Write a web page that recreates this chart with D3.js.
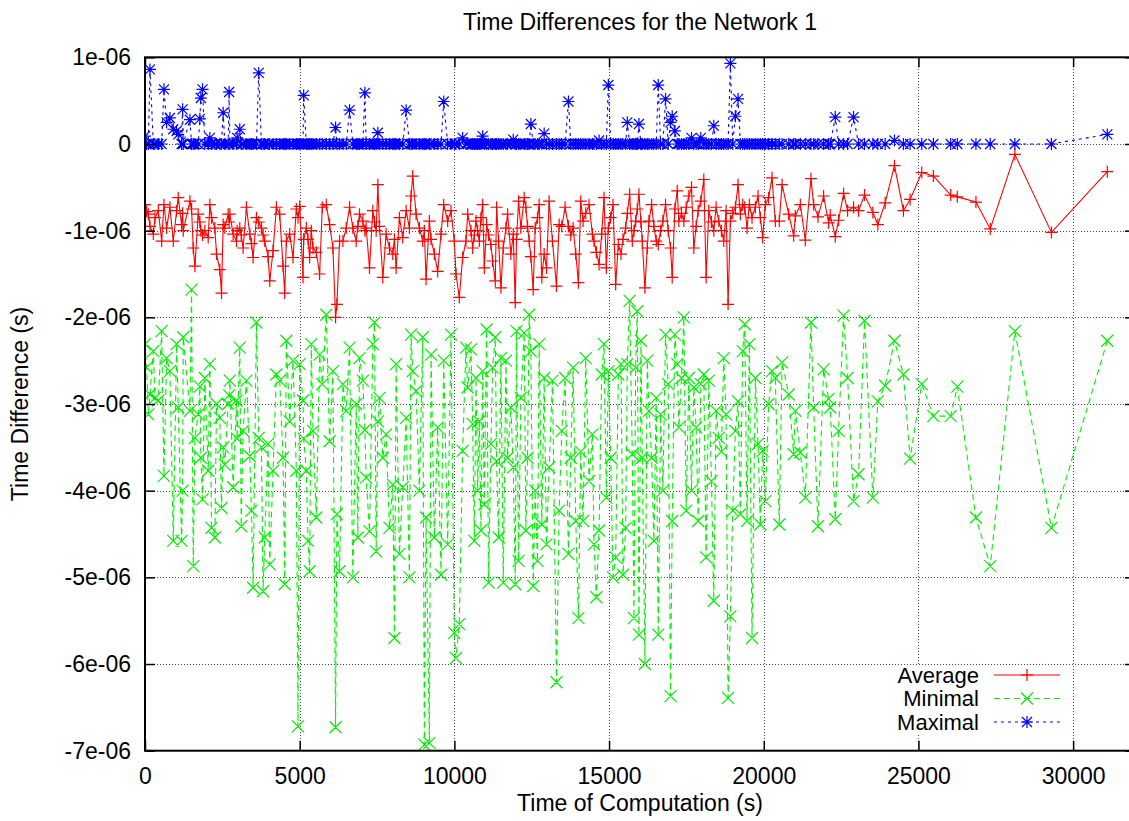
<!DOCTYPE html>
<meta charset="utf-8">
<title>Time Differences for the Network 1</title>
<script src="https://cdn.jsdelivr.net/npm/d3@7"></script>
<style>
  body { margin: 0; background: #fff; }
  svg { display: block; font-family: "Liberation Sans", Arial, sans-serif; }
</style>
<div id="chart"></div>
<script>
// time of computation (s), shared by the three series
var time = [
  0, 54, 108, 161, 269, 323, 430, 538, 613, 699,
  806, 914, 1022, 1075, 1183, 1215, 1237, 1452, 1505, 1559,
  1613, 1720, 1774, 1806, 1860, 1935, 2043, 2097, 2150, 2258,
  2312, 2419, 2473, 2527, 2580, 2688, 2720, 2742, 2849, 2957,
  2978, 3064, 3110, 3172, 3279, 3387, 3441, 3494, 3602, 3677,
  3763, 3817, 3870, 3978, 4032, 4139, 4247, 4354, 4462, 4516,
  4569, 4677, 4784, 4892, 4946, 5000, 5107, 5129, 5215, 5269,
  5322, 5376, 5430, 5537, 5644, 5730, 5859, 5967, 6074, 6160,
  6203, 6289, 6397, 6504, 6612, 6719, 6827, 6880, 6934, 7042,
  7107, 7149, 7257, 7364, 7418, 7472, 7526, 7579, 7687, 7794,
  7902, 8009, 8063, 8117, 8224, 8332, 8441, 8547, 8600, 8654,
  8762, 8869, 8977, 9030, 9084, 9192, 9246, 9353, 9461, 9568,
  9655, 9783, 9891, 9998, 10052, 10159, 10267, 10374,
  10430, 10537, 10591, 10645, 10699, 10752, 10806, 10860, 10914, 10967,
  11043, 11107, 11182, 11236, 11322, 11365, 11430, 11505, 11580, 11666,
  11720, 11827, 11903, 11967, 12010, 12075, 12150, 12257, 12311, 12365,
  12418, 12472, 12548, 12612, 12687, 12741, 12827, 12902, 12978, 13064,
  13171, 13300, 13386, 13472, 13580, 13687, 13762, 13838, 13924, 14010,
  14085, 14160, 14246, 14354, 14461, 14515, 14590, 14676, 14762, 14837,
  14912, 14977, 15052, 15128, 15214, 15300, 15386, 15450, 15536, 15590,
  15665, 15751, 15805, 15859, 15912, 15966, 16030, 16074, 16159, 16235,
  16289, 16375, 16450, 16525, 16590, 16665, 16740, 16826, 16912, 16987,
  17041, 17127, 17203, 17256, 17342, 17417, 17493, 17579, 17665, 17740,
  17815, 17880, 17966, 18062, 18138, 18224, 18310, 18385, 18460, 18546,
  18632, 18707, 18783, 18847, 18922, 18997, 19083, 19169, 19245, 19320,
  19384, 19460, 19535, 19621, 19729, 19814, 19890, 19965, 20051, 20158,
  20266, 20373,
  20502, 20592, 20807, 20968, 21022, 21183, 21344, 21527, 21613, 21753,
  21935, 22097, 22150, 22312, 22419, 22581, 22710, 22903, 23064, 23258,
  23527, 23688, 23924, 24225, 24515, 24730,
  25107, 25483, 26042, 26257, 26859, 27321, 28117, 29299, 31105
];

// average time difference, in microseconds
var avgUs = [
  -0.70, -0.78, -0.81, -0.95, -1.04, -0.85, -0.77, -1.12, -0.70, -0.97,
  -0.73, -1.12, -0.77, -0.62, -0.93, -0.80, -1.00, -0.66, -0.75, -1.20,
  -1.41, -0.81, -0.90, -1.00, -1.05, -1.00, -1.08, -0.70, -0.85, -0.97,
  -1.27, -1.45, -1.72, -0.93, -0.97, -0.81, -0.90, -0.81, -1.04, -1.12,
  -1.00, -0.97, -1.05, -1.20, -0.73, -1.04, -1.15, -1.31, -0.85, -0.90,
  -0.97, -1.05, -1.12, -1.30, -1.58, -1.23, -0.73, -0.81, -1.41, -1.72,
  -1.12, -1.04, -1.31, -0.75, -0.85, -0.72, -1.54, -1.10, -0.97, -1.10,
  -1.31, -1.00, -1.20, -1.25, -1.50, -0.73, -0.70, -0.93, -1.20, -2.00,
  -1.85, -1.12, -1.12, -0.97, -0.73, -0.97, -1.12, -0.95, -0.81, -0.89,
  -1.00, -0.97, -1.43, -0.77, -0.90, -1.00, -0.47, -0.95, -1.54, -1.04,
  -1.20, -1.27, -1.10, -1.43, -0.85, -1.08, -0.77, -0.97, -0.60, -0.37,
  -0.81, -0.97, -1.12, -1.00, -1.56, -0.89, -1.10, -1.27, -1.47, -1.04,
  -0.70, -0.89, -0.77, -1.12, -1.50, -1.77, -1.31, -1.12,
  -0.81, -1.00, -1.20, -1.05, -0.89, -1.00, -1.12, -0.85, -0.70, -1.43,
  -0.93, -1.05, -1.16, -1.35, -1.58, -0.73, -1.12, -1.66, -1.20, -0.97,
  -0.81, -1.27, -1.04, -1.83, -1.10, -0.66, -0.97, -0.62, -0.73, -0.95,
  -1.12, -1.30, -1.68, -0.97, -0.85, -0.70, -1.54, -1.27, -1.43, -0.66,
  -1.12, -1.64, -0.93, -0.95, -0.73, -0.95, -1.05, -0.97, -1.27, -1.60,
  -0.66, -0.89, -0.80, -0.70, -1.04, -1.12, -1.25, -1.39, -1.04, -0.62,
  -1.43, -0.97, -0.85, -0.70, -1.62, -1.16, -1.27, -1.10, -0.97, -0.80,
  -0.58, -1.12, -1.00, -0.89, -0.75, -0.58, -0.90, -1.12, -1.66, -1.20,
  -0.89, -0.70, -0.95, -1.12, -1.16, -1.00, -0.89, -0.70, -1.00, -1.20,
  -1.54, -0.75, -0.54, -0.89, -0.80, -0.89, -0.73, -0.60, -0.50, -1.20,
  -0.95, -0.77, -0.66, -0.41, -1.54, -0.77, -0.90, -1.00, -0.73, -0.89,
  -1.00, -1.12, -0.77, -1.85, -0.89, -0.80, -0.73, -0.47, -0.81, -0.70,
  -0.73, -0.97, -0.70, -0.85, -0.73, -0.60, -0.85, -1.08, -0.70, -0.62,
  -0.39, -0.89,
  -0.89, -0.47, -0.81, -1.06, -0.83, -0.70, -1.11, -0.40, -0.70, -0.84,
  -0.60, -0.91, -0.82, -1.07, -0.88, -0.57, -0.77, -0.73, -0.77, -0.59,
  -0.79, -0.93, -0.68, -0.25, -0.77, -0.64,
  -0.33, -0.37, -0.59, -0.61, -0.67, -0.98, -0.12, -1.02, -0.32
];

// minimal time difference, in microseconds
var minUs = [
  -2.31, -2.58, -3.12, -2.89, -2.39, -2.93, -2.96, -2.16, -3.83, -2.47,
  -2.62, -4.58, -2.31, -3.04, -4.58, -4.00, -2.23, -3.08, -1.68, -4.87,
  -3.39, -3.12, -2.80, -3.62, -4.10, -2.70, -3.77, -2.54, -4.43, -4.54,
  -3.00, -3.16, -4.20, -3.50, -3.70, -3.00, -2.90, -2.73, -3.96, -2.96,
  -3.40, -2.35, -4.41, -3.31, -2.73, -3.60, -4.23, -5.12, -2.06, -3.39,
  -3.50, -5.16, -4.54, -3.46, -4.85, -3.77, -2.66, -2.73, -3.62, -5.08,
  -2.27, -3.20, -2.50, -3.77, -6.72, -2.54, -2.96, -3.40, -3.77, -4.58,
  -4.93, -2.31, -3.31, -4.31, -2.43, -2.77, -1.97, -3.43, -2.62, -6.73,
  -4.27, -4.93, -2.77, -3.08, -2.35, -5.00, -3.00, -4.54, -2.47, -2.73,
  -3.30, -3.85, -4.47, -2.31, -2.06, -4.70, -3.20, -2.93, -3.62, -3.35,
  -4.43, -3.93, -5.70, -2.54, -4.73, -3.96, -3.16, -5.00, -2.20, -2.62,
  -2.85, -4.00, -2.23, -6.93, -4.31, -6.91, -2.43, -4.54, -3.27, -4.97,
  -2.50, -4.62, -2.20, -5.64, -5.93, -5.54, -3.54, -2.35,
  -2.81, -2.37, -3.23, -4.58, -2.70, -4.00, -3.20, -4.46, -2.62, -4.16,
  -2.14, -5.06, -3.46, -2.58, -2.23, -3.66, -4.54, -2.47, -5.06, -2.50,
  -3.62, -3.04, -3.73, -5.08, -2.16, -4.81, -2.93, -2.18, -4.46, -3.62,
  -1.97, -2.39, -5.10, -4.00, -4.81, -2.31, -4.39, -2.70, -4.62, -3.73,
  -2.73, -6.21, -4.23, -3.31, -2.70, -4.73, -3.62, -2.58, -4.35, -5.47,
  -3.55, -4.35, -2.47, -3.89, -3.35, -4.62, -5.23, -4.46, -2.66, -2.31,
  -4.08, -2.62, -3.62, -5.00, -4.77, -2.66, -2.54, -4.97, -4.43, -2.54,
  -1.81, -3.58, -5.47, -2.58, -1.93, -5.66, -2.27, -3.62, -6.00, -2.50,
  -3.08, -3.62, -4.58, -2.93, -5.66, -3.12, -4.00, -2.20, -2.77, -6.37,
  -4.35, -2.20, -2.54, -3.27, -2.70, -2.00, -4.23, -2.70, -4.00, -2.81,
  -3.27, -4.35, -2.77, -2.66, -4.77, -2.73, -3.89, -5.27, -3.08, -3.39,
  -3.55, -2.47, -3.12, -6.39, -5.45, -4.23, -3.31, -2.97, -4.27, -2.39,
  -2.08, -4.35, -2.31, -5.70, -2.70, -3.46, -4.39, -3.54, -4.12, -3.00,
  -2.62, -2.70,
  -4.39, -2.52, -2.89, -3.58, -3.08, -3.56, -4.08, -2.06, -3.04, -4.41,
  -2.60, -2.94, -3.04, -4.33, -3.31, -1.98, -2.70, -4.12, -3.81, -2.04,
  -4.08, -2.97, -2.79, -2.27, -2.66, -3.63,
  -2.77, -3.14, -3.14, -2.80, -4.31, -4.87, -2.16, -4.43, -2.27
];

// maximal time difference, in microseconds
var maxUs = [
  0.09, 0, 0, 0.86, 0, 0, 0, 0, 0.63, 0.25,
  0.30, 0.17, 0.15, 0.11, 0, 0.40, 0, 0.28, 0, 0,
  0, 0, 0.29, 0.53, 0.63, 0, 0, 0.07, 0, 0,
  0, 0, 0, 0.36, 0, 0, 0.60, 0, 0, 0,
  0.07, 0.17, 0, 0, 0, 0, 0, 0, 0, 0.82,
  0, 0, 0, 0, 0, 0, 0, 0, 0, 0,
  0, 0, 0, 0, 0, 0, 0, 0.56, 0, 0,
  0, 0, 0, 0, 0, 0, 0, 0, 0, 0.19,
  0, 0, 0, 0, 0.39, 0, 0, 0, 0, 0,
  0.59, 0, 0, 0, 0, 0, 0.13, 0, 0, 0,
  0, 0, 0, 0, 0, 0, 0.39, 0, 0, 0,
  0, 0, 0, 0, 0, 0, 0, 0, 0, 0,
  0.49, 0, 0, 0, 0, 0, 0.07, 0,
  0, 0, 0, 0, 0, 0, 0, 0, 0.09, 0,
  0, 0, 0, 0, 0, 0, 0, 0, 0, 0,
  0, 0, 0.05, 0, 0, 0, 0, 0, 0, 0,
  0, 0.23, 0, 0, 0, 0, 0, 0.12, 0, 0,
  0, 0, 0, 0, 0, 0.49, 0, 0, 0, 0,
  0, 0, 0, 0, 0, 0, 0, 0.04, 0, 0,
  0, 0.68, 0, 0, 0, 0, 0, 0, 0, 0.25,
  0, 0, 0, 0, 0, 0.23, 0, 0, 0, 0,
  0, 0, 0, 0, 0.68, 0, 0, 0.52, 0, 0.25,
  0.32, 0.15, 0, 0, 0, 0, 0, 0, 0.07, 0,
  0, 0, 0.07, 0, 0, 0, 0, 0.21, 0, 0,
  0, 0, 0, 0, 0.93, 0, 0.32, 0.52, 0, 0,
  0, 0, 0, 0, 0, 0, 0, 0, 0, 0,
  0, 0,
  0, 0, 0, 0, 0, 0, 0, 0, 0, 0,
  0, 0, 0, 0.31, 0, 0, 0, 0.31, 0, 0,
  0, 0, 0, 0.04, 0, 0,
  0, 0, 0, 0, 0, 0, 0, 0, 0.11
];

var seriesNames = ["Average", "Minimal", "Maximal"];
var xTicks = [0, 5000, 10000, 15000, 20000, 25000, 30000];
var yTicks = [1e-6, 0, -1e-6, -2e-6, -3e-6, -4e-6, -5e-6, -6e-6, -7e-6];
var yTickLabels = ["1e-06", "0", "-1e-06", "-2e-06", "-3e-06", "-4e-06", "-5e-06", "-6e-06", "-7e-06"];

var W = 1129, H = 821, FS = 23;
var pL = 145, pR = 1135, pT = 57.3, pB = 750.7;

var x = d3.scaleLinear().domain([0, 32000]).range([pL, pR]);
var y = d3.scaleLinear().domain([-7e-6, 1e-6]).range([pB, pT]);

var rows = time.map(function(t, i) {
  return {t: t, avg: avgUs[i] * 1e-6, min: minUs[i] * 1e-6, max: maxUs[i] * 1e-6};
});

var svg = d3.select("#chart").append("svg")
  .attr("width", W).attr("height", H)
  .style("overflow", "hidden");

svg.append("defs").append("clipPath").attr("id", "plot")
  .append("rect").attr("x", pL).attr("y", pT)
  .attr("width", pR - pL).attr("height", pB - pT);

// grid
var gx = svg.append("g").attr("transform", "translate(0," + pB + ")")
  .call(d3.axisBottom(x).tickValues(xTicks.slice(1)).tickSize(-(pB - pT)).tickFormat(""));
var gy = svg.append("g").attr("transform", "translate(" + pL + ",0)")
  .call(d3.axisLeft(y).tickValues(yTicks.slice(1, -1)).tickSize(-(pR - pL)).tickFormat(""));
[gx, gy].forEach(function(g) {
  g.select(".domain").remove();
  g.selectAll("line").attr("stroke", "#444").attr("stroke-dasharray", "1,2")
    .attr("shape-rendering", "crispEdges");
});

function markerPath(type, cx, cy) {
  var p = "";
  if (type === "plus" || type === "star") {
    var s = 6;
    p += "M" + (cx - s) + "," + cy + "h" + (2 * s) + "M" + cx + "," + (cy - s) + "v" + (2 * s);
  }
  if (type === "cross" || type === "star") {
    var c = type === "star" ? 5 : 6;
    p += "M" + (cx - c) + "," + (cy - c) + "l" + (2 * c) + "," + (2 * c) +
         "M" + (cx - c) + "," + (cy + c) + "l" + (2 * c) + "," + (-2 * c);
  }
  return p;
}

var series = [
  {name: seriesNames[0], key: "avg", color: "#ff0000", dash: null, marker: "plus"},
  {name: seriesNames[1], key: "min", color: "#00f000", dash: "6,4", marker: "cross"},
  {name: seriesNames[2], key: "max", color: "#0000ff", dash: "3,4", marker: "star"}
];

var plot = svg.append("g").attr("clip-path", "url(#plot)");

series.forEach(function(s) {
  var line = d3.line()
    .x(function(d) { return x(d.t); })
    .y(function(d) { return y(d[s.key]); });
  plot.append("path")
    .datum(rows)
    .attr("d", line)
    .attr("fill", "none")
    .attr("stroke", s.color)
    .attr("stroke-width", 1.1)
    .attr("stroke-dasharray", s.dash);
  plot.append("path")
    .attr("d", rows.map(function(d) { return markerPath(s.marker, x(d.t), y(d[s.key])); }).join(""))
    .attr("fill", "none")
    .attr("stroke", s.color)
    .attr("stroke-width", 1.2);
});

// key (opaque, no frame)
var key = svg.append("g");
key.append("rect").attr("x", 885).attr("y", 665).attr("width", 180).attr("height", 70).attr("fill", "#fff");
series.forEach(function(s, i) {
  var ky = 675 + i * 23.5;
  key.append("text").attr("x", 979).attr("y", ky).attr("dy", "0.35em")
    .attr("text-anchor", "end").attr("font-size", 22).text(s.name);
  key.append("line").attr("x1", 994).attr("x2", 1060).attr("y1", ky).attr("y2", ky)
    .attr("stroke", s.color).attr("stroke-width", 1.1).attr("stroke-dasharray", s.dash);
  key.append("path").attr("d", markerPath(s.marker, 1027, ky))
    .attr("fill", "none").attr("stroke", s.color).attr("stroke-width", 1.2);
});

// border and inward ticks on all four sides
svg.append("rect").attr("x", pL).attr("y", pT)
  .attr("width", pR - pL).attr("height", pB - pT)
  .attr("fill", "none").attr("stroke", "#000").attr("stroke-width", 2);

var axB = svg.append("g").attr("transform", "translate(0," + pB + ")")
  .call(d3.axisBottom(x).tickValues(xTicks).tickSize(-10).tickSizeOuter(0).tickFormat(d3.format("d")));
axB.selectAll("text").attr("y", 33).attr("dy", 0);
var axT = svg.append("g").attr("transform", "translate(0," + pT + ")")
  .call(d3.axisTop(x).tickValues(xTicks).tickSize(-10).tickSizeOuter(0).tickFormat(""));
var axL = svg.append("g").attr("transform", "translate(" + pL + ",0)")
  .call(d3.axisLeft(y).tickValues(yTicks).tickSize(-10).tickSizeOuter(0).tickPadding(14)
    .tickFormat(function(d, i) { return yTickLabels[i]; }));
var axR = svg.append("g").attr("transform", "translate(" + pR + ",0)")
  .call(d3.axisRight(y).tickValues(yTicks).tickSize(-10).tickSizeOuter(0).tickFormat(""));
[axB, axT, axL, axR].forEach(function(g) {
  g.select(".domain").remove();
  g.selectAll("line").attr("stroke", "#000").attr("stroke-width", 1.5);
  g.selectAll("text").attr("font-size", FS).attr("font-family", null).attr("fill", "#000");
});

// titles
svg.append("text").attr("x", (pL + pR) / 2).attr("y", 30)
  .attr("text-anchor", "middle").attr("font-size", FS)
  .text("Time Differences for the Network 1");
svg.append("text").attr("x", (pL + pR) / 2).attr("y", 811)
  .attr("text-anchor", "middle").attr("font-size", FS)
  .text("Time of Computation (s)");
svg.append("text").attr("transform", "translate(28," + (pT + pB) / 2 + ") rotate(-90)")
  .attr("text-anchor", "middle").attr("font-size", FS)
  .text("Time Difference (s)");
</script>
